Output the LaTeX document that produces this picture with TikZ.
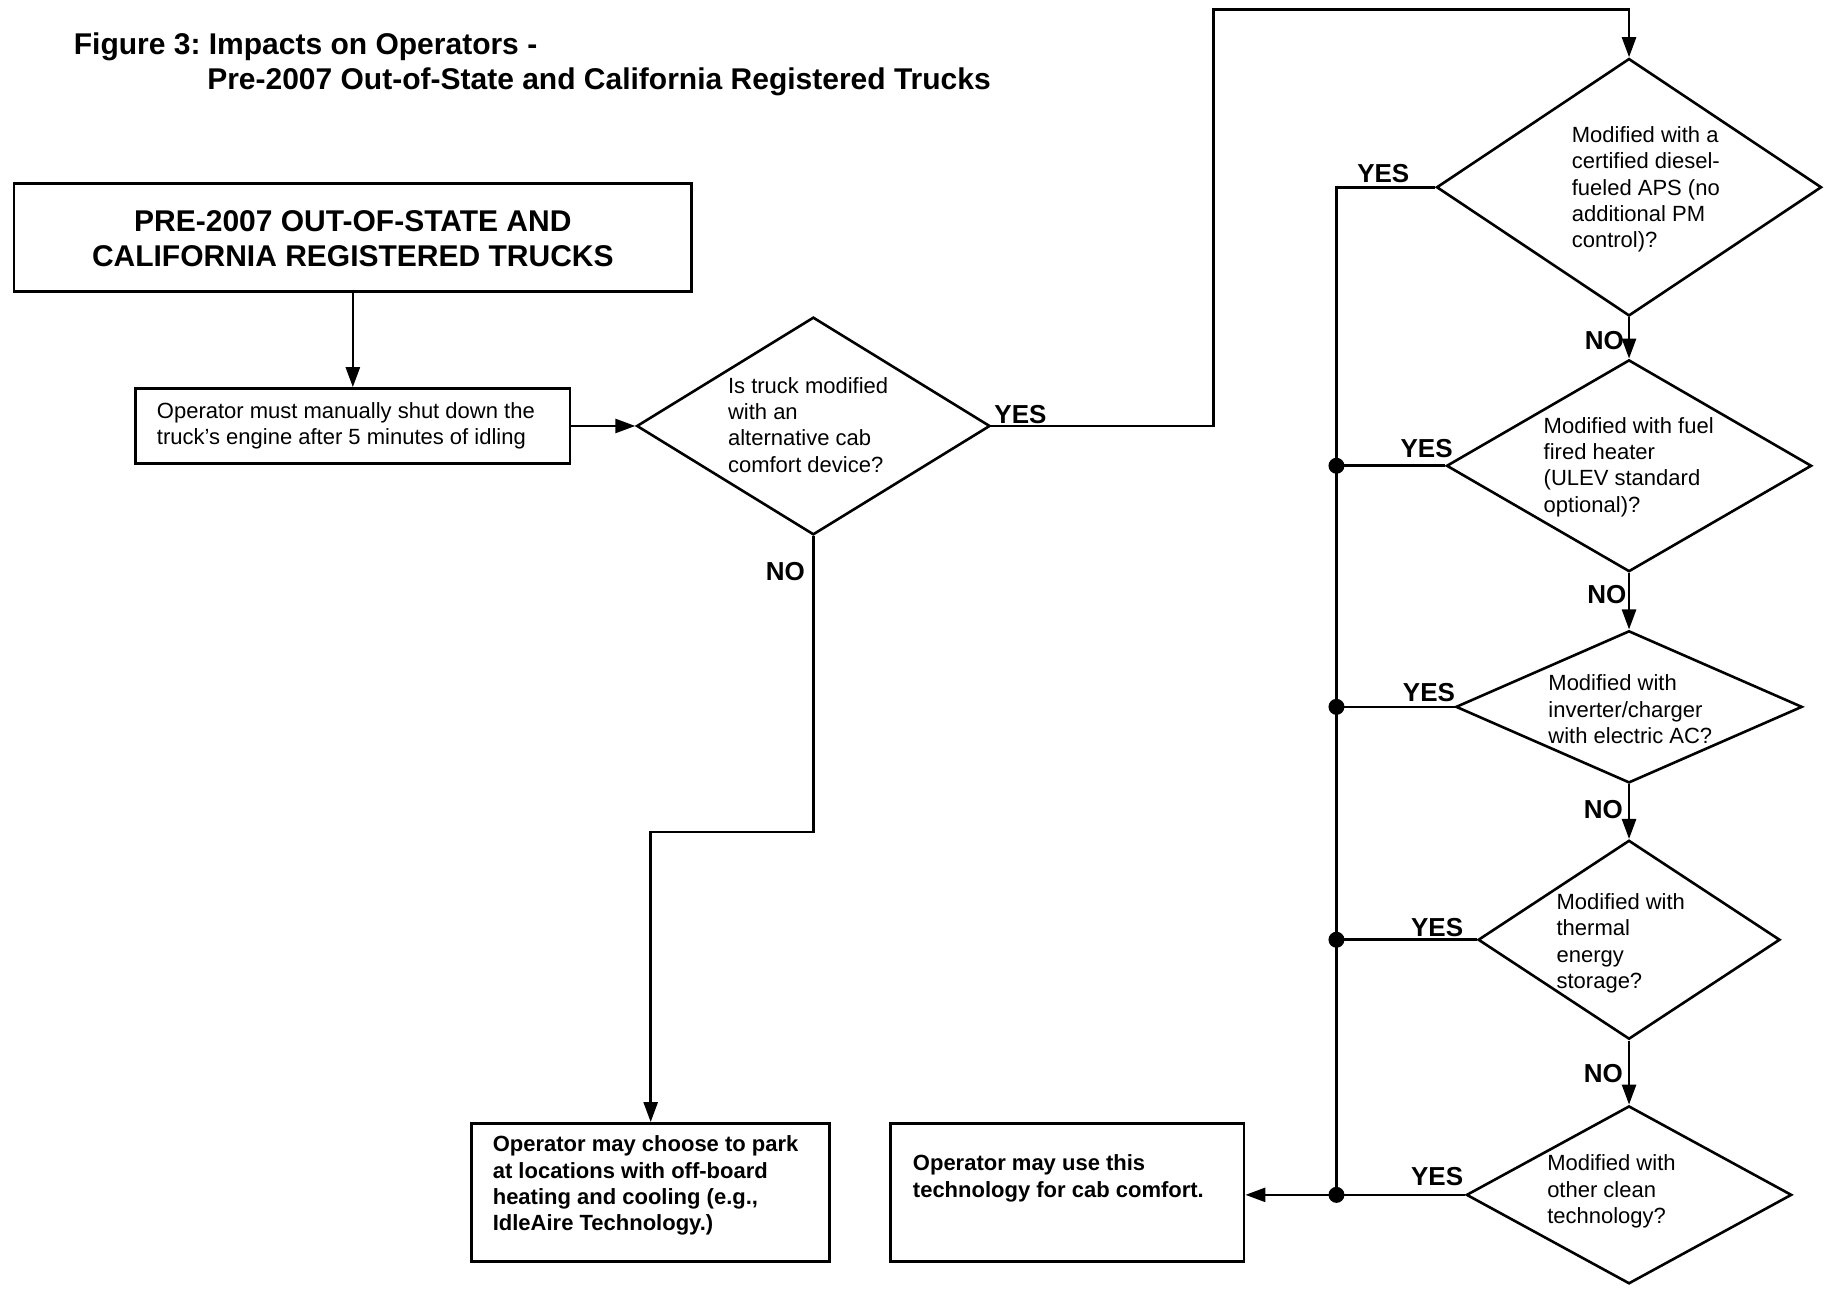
\documentclass[tikz,border=0pt]{standalone}
\usepackage{fontspec}
\setmainfont{Liberation Sans}
\usetikzlibrary{arrows.meta,shapes.geometric}
\def\pxs{1.1703}
\frenchspacing
\begin{document}
\begin{tikzpicture}[x=1.1703pt,y=-1.1703pt,
  line width=2.6pt,
  arr/.style={-{Triangle[length=20pt,width=14pt]}},
  box/.style={draw,line width=2.8pt,inner sep=0pt},
  dia/.style={draw,shape=diamond,inner sep=0pt,line width=2.6pt},
  txt/.style={anchor=west,align=left,inner sep=0pt,font=\fontsize{22}{26.3}\selectfont},
  btxt/.style={anchor=west,align=left,inner sep=0pt,font=\fontsize{22}{26.3}\selectfont\bfseries},
  lab/.style={inner sep=0pt,font=\fontsize{26}{30}\selectfont\bfseries},
  ttl/.style={anchor=west,inner sep=0pt,font=\fontsize{30}{35}\selectfont\bfseries},
  dot/.style={circle,fill,inner sep=0pt,minimum size=16pt}]
\useasboundingbox (0,0) rectangle (1568,1101);
% title
\node[ttl] (ti1) at (62,40) {Figure 3: Impacts on Operators -};
\node[ttl] (ti2) at (176,70) {Pre-2007 Out-of-State and California Registered Trucks};
% boxes
\node[box,minimum width=\pxs*579,minimum height=\pxs*92] (b1) at (301.5,203) {};
\node[inner sep=0pt,align=center,font=\fontsize{30}{35}\selectfont\bfseries] (b1t) at (301.5,204) {PRE-2007 OUT-OF-STATE AND\\CALIFORNIA REGISTERED TRUCKS};
\node[box,minimum width=\pxs*371,minimum height=\pxs*64] (b2) at (301.5,364) {};
\node[txt] (b2t) at (133,364) {Operator must manually shut down the\\truck’s engine after 5 minutes of idling};
\node[box,minimum width=\pxs*306,minimum height=\pxs*118] (b3) at (556,1019) {};
\node[btxt] (b3t) at (420,1013) {Operator may choose to park\\at locations with off-board\\heating and cooling (e.g.,\\IdleAire Technology.)};
\node[box,minimum width=\pxs*302,minimum height=\pxs*118] (b4) at (912,1019) {};
\node[btxt] (b4t) at (779,1007) {Operator may use this\\technology for cab comfort.};
% diamonds
\node[dia,minimum width=\pxs*302,minimum height=\pxs*186] (d1) at (695,364) {};
\node[txt] (d1t) at (621,363) {Is truck modified\\with an\\alternative cab\\comfort device?};
\node[dia,minimum width=\pxs*329,minimum height=\pxs*220] (d2) at (1392,160) {};
\node[txt] (d2t) at (1342,162) {Modified with a\\certified diesel-\\fueled APS (no\\additional PM\\control)?};
\node[dia,minimum width=\pxs*312,minimum height=\pxs*181] (d3) at (1392,398) {};
\node[txt] (d3t) at (1318,399) {Modified with fuel\\fired heater\\(ULEV standard\\optional)?};
\node[dia,minimum width=\pxs*296,minimum height=\pxs*130] (d4) at (1392,604) {};
\node[txt] (d4t) at (1322,606) {Modified with\\inverter/charger\\with electric AC?};
\node[dia,minimum width=\pxs*258,minimum height=\pxs*170] (d5) at (1392,803) {};
\node[txt] (d5t) at (1329,806) {Modified with\\thermal\\energy\\storage?};
\node[dia,minimum width=\pxs*278,minimum height=\pxs*152] (d6) at (1392,1021) {};
\node[txt] (d6t) at (1321,1018) {Modified with\\other clean\\technology?};
% junctions
\coordinate (t2) at (1142,160);
\node[dot] (j3) at (1142,398) {};
\node[dot] (j4) at (1142,604) {};
\node[dot] (j5) at (1142,803) {};
\node[dot] (j6) at (1142,1021) {};
\coordinate (c1) at (1037,8);
\coordinate (c2) at (556,711);
% connectors
\draw[arr] (b1) -- (b2);
\draw[arr] (b2.east) -- (d1.west);
\draw[arr] (d1.east) -| (c1) -| (d2.north);
\draw[arr] (d1.south) |- (c2) -- (b3.north);
\draw (d2.west) -- (t2) -- (j6.center);
\draw (d3.west) -- (j3.center);
\draw (d4.west) -- (j4.center);
\draw (d5.west) -- (j5.center);
\draw[arr] (d6.west) -- (d6.west -| b4.east);
\draw[arr] (d2.south) -- (d3.north);
\draw[arr] (d3.south) -- (d4.north);
\draw[arr] (d4.south) -- (d5.north);
\draw[arr] (d5.south) -- (d6.north);
% labels
\node[lab] (y1) at (872,354) {YES};
\node[lab] (n1) at (671,488) {NO};
\node[lab] (y2) at (1182,148) {YES};
\node[lab] (n2) at (1371,291) {NO};
\node[lab] (y3) at (1219,383) {YES};
\node[lab] (n3) at (1373,508) {NO};
\node[lab] (y4) at (1221,592) {YES};
\node[lab] (n4) at (1370,692) {NO};
\node[lab] (y5) at (1228,793) {YES};
\node[lab] (n5) at (1370,917) {NO};
\node[lab] (y6) at (1228,1005) {YES};
\end{tikzpicture}
\end{document}
